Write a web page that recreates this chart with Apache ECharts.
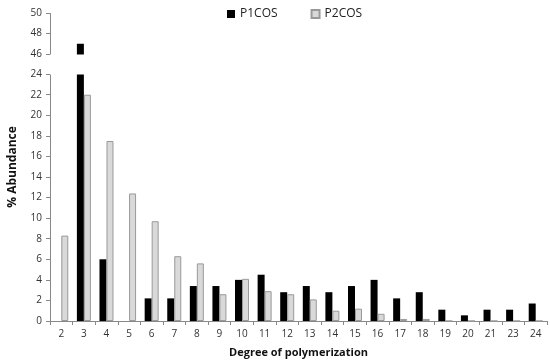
<!DOCTYPE html>
<html>
<head>
<meta charset="utf-8">
<script src="https://cdn.jsdelivr.net/npm/echarts@6/dist/echarts.min.js"></script>
<style>
html,body{margin:0;padding:0;background:#fff;}
#c{width:550px;height:361px;}
</style>
</head>
<body>
<div id="c"></div>
<script>
var categories = ['2','3','4','5','6','7','8','9','10','11','12','13','14','15','16','17','18','19','20','21','23','24'];
var p1cos = [0, 47, 6, 0, 2.2, 2.2, 3.4, 3.4, 4.0, 4.5, 2.8, 3.4, 2.8, 3.4, 4.0, 2.2, 2.8, 1.1, 0.55, 1.1, 1.1, 1.7];
var p2cos = [8.3, 22, 17.5, 12.4, 9.7, 6.3, 5.6, 2.6, 4.1, 2.9, 2.6, 2.1, 1.0, 1.2, 0.7, 0.2, 0.2, 0, 0, 0, 0, 0];
var seriesNames = ['P1COS', 'P2COS'];

var chart = echarts.init(document.getElementById('c'), null, {renderer: 'canvas'});
var font = "'Open Sans', 'Liberation Sans', sans-serif";
chart.setOption({
  animation: false,
  backgroundColor: '#fff',
  textStyle: {fontFamily: font},
  legend: {
    left: 222, top: 3,
    itemWidth: 8, itemHeight: 8, itemGap: 33,
    icon: 'rect',
    textStyle: {fontSize: 12, color: '#222', fontFamily: font},
    data: seriesNames
  },
  grid: {left: 50, right: 3, top: 13, bottom: 40, containLabel: false, outerBoundsMode: 'none'},
  xAxis: {
    type: 'category',
    data: categories,
    name: 'Degree of polymerization',
    nameLocation: 'middle',
    nameGap: 26,
    nameTextStyle: {fontSize: 11, fontWeight: 'bold', color: '#111', fontFamily: font},
    axisLine: {lineStyle: {color: '#888'}},
    axisTick: {show: true, interval: 0, length: 4, lineStyle: {color: '#888'}},
    axisLabel: {fontSize: 10, color: '#333', margin: 8, interval: 0}
  },
  yAxis: {
    type: 'value',
    min: 0, max: 50, interval: 2,
    breaks: [{start: 24, end: 46, gap: '6.5%'}],
    breakArea: {
      show: true,
      zigzagAmplitude: 0,
      itemStyle: {color: '#fff', borderColor: '#fff', borderWidth: 0, opacity: 1}
    },
    name: '% Abundance',
    nameLocation: 'middle',
    nameGap: 31,
    nameTextStyle: {fontSize: 12, fontWeight: 'bold', color: '#111', fontFamily: font},
    axisLine: {show: true, lineStyle: {color: '#888'}},
    axisTick: {show: true, length: 4, lineStyle: {color: '#888'}},
    splitLine: {show: false},
    axisLabel: {
      fontSize: 10, color: '#333', margin: 8,
      formatter: function (v) {
        return (Math.abs(v - Math.round(v)) < 1e-6 && Math.round(v) % 2 === 0) ? String(Math.round(v)) : '';
      }
    }
  },
  series: [
    {
      name: seriesNames[0], type: 'bar', data: p1cos,
      barWidth: 7, barGap: '0%',
      itemStyle: {color: '#000'}
    },
    {
      name: seriesNames[1], type: 'bar', data: p2cos,
      barWidth: 7,
      itemStyle: {color: '#d9d9d9', borderColor: '#999', borderWidth: 1}
    }
  ]
});
</script>
</body>
</html>
